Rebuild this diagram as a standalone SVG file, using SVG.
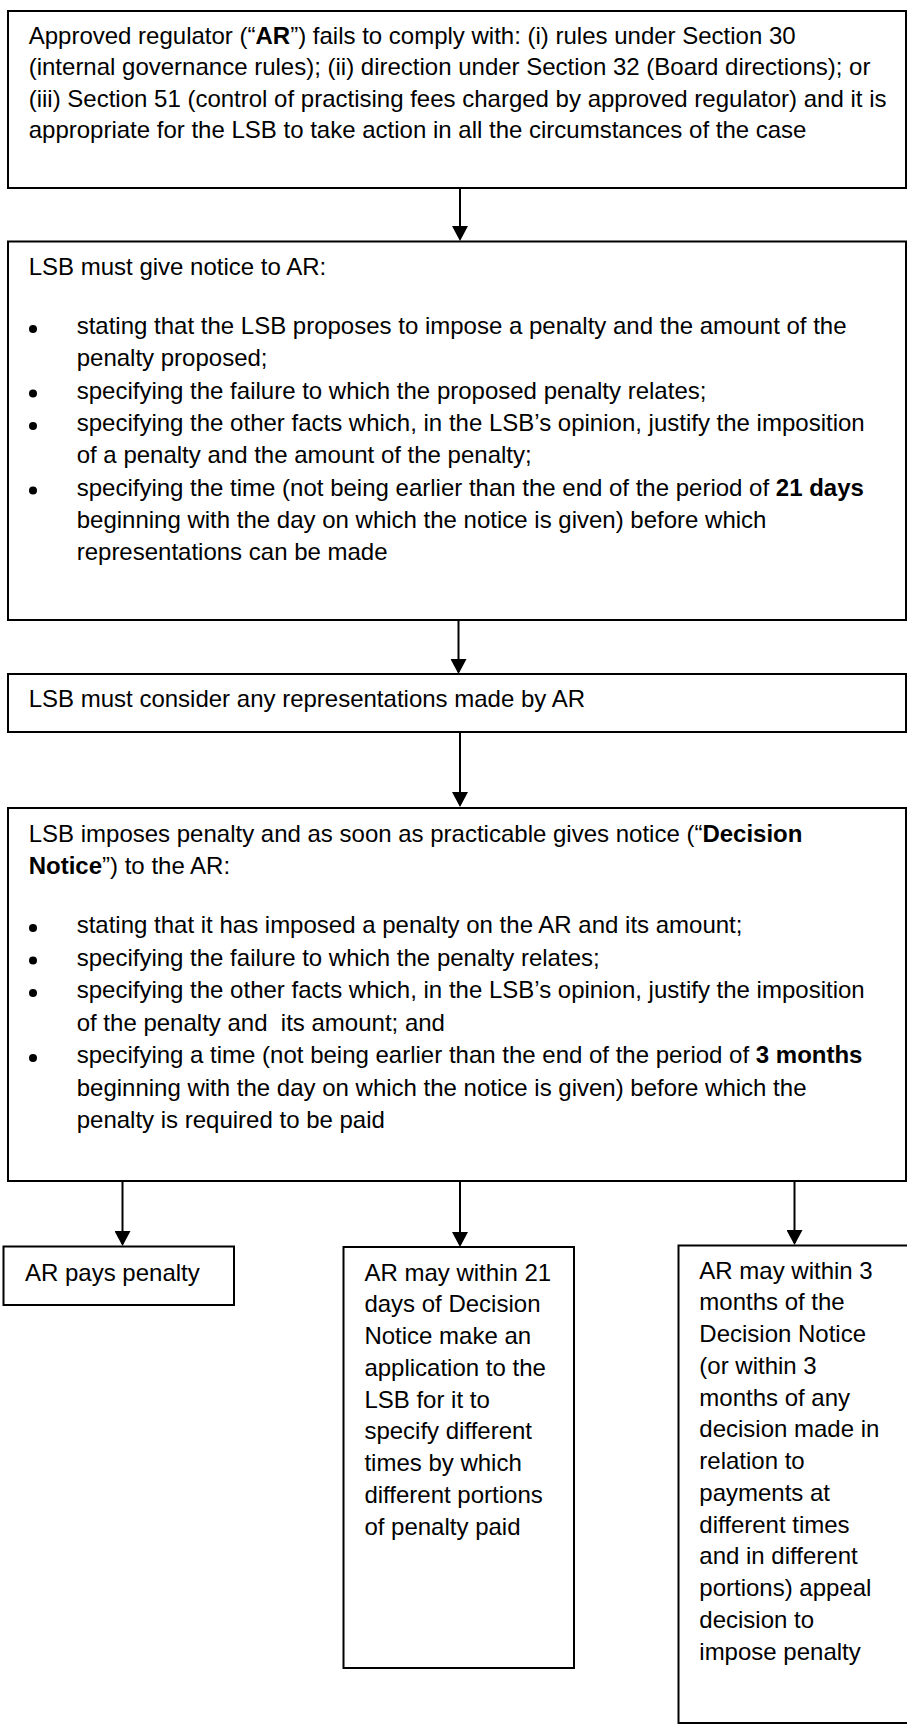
<svg xmlns="http://www.w3.org/2000/svg" width="907" height="1724" viewBox="0 0 907 1724">
  <defs>
    <style>
      .box { fill: #ffffff; stroke: #000000; stroke-width: 2; }
      .t { font-family: "Liberation Sans", Arial, sans-serif; font-size: 24px; fill: #000000; white-space: pre; }
      .b { font-weight: bold; }
      .conn { stroke: #000000; stroke-width: 2; fill: none; marker-end: url(#arrow); }
      .dot { fill: #000000; }
    </style>
    <marker id="arrow" markerUnits="userSpaceOnUse" viewBox="0 0 15 16" markerWidth="15" markerHeight="16" refX="13" refY="8" orient="auto">
      <path d="M0,0 L15,8 L0,16 z" fill="#000000"/>
    </marker>
  </defs>
  <rect x="0" y="0" width="907" height="1724" fill="#ffffff"/>

  <g id="connectors">
    <line class="conn" x1="460" y1="188" x2="460" y2="239"/>
    <line class="conn" x1="458.5" y1="620" x2="458.5" y2="672"/>
    <line class="conn" x1="460" y1="732" x2="460" y2="805"/>
    <line class="conn" x1="122.5" y1="1178" x2="122.5" y2="1244"/>
    <line class="conn" x1="460" y1="1181" x2="460" y2="1245"/>
    <line class="conn" x1="794.5" y1="1181" x2="794.5" y2="1243"/>
  </g>

  <g id="node-failure">
    <rect class="box" x="8" y="11" width="898" height="177"/>
    <text class="t" x="28.7" y="43.5">Approved regulator (“<tspan class="b">AR</tspan>”) fails to comply with: (i) rules under Section 30</text>
    <text class="t" x="28.7" y="75">(internal governance rules); (ii) direction under Section 32 (Board directions); or</text>
    <text class="t" x="28.7" y="106.5">(iii) Section 51 (control of practising fees charged by approved regulator) and it is</text>
    <text class="t" x="28.7" y="138">appropriate for the LSB to take action in all the circumstances of the case</text>
  </g>

  <g id="node-notice">
    <rect class="box" x="8" y="241.5" width="898" height="378.5"/>
    <text class="t" x="28.7" y="275">LSB must give notice to AR:</text>
    <circle class="dot" cx="33" cy="329" r="4"/>
    <text class="t" x="76.7" y="334">stating that the LSB proposes to impose a penalty and the amount of the</text>
    <text class="t" x="76.7" y="366.3">penalty proposed;</text>
    <circle class="dot" cx="33" cy="393.6" r="4"/>
    <text class="t" x="76.7" y="398.6">specifying the failure to which the proposed penalty relates;</text>
    <circle class="dot" cx="33" cy="425.9" r="4"/>
    <text class="t" x="76.7" y="430.9">specifying the other facts which, in the LSB’s opinion, justify the imposition</text>
    <text class="t" x="76.7" y="463.2">of a penalty and the amount of the penalty;</text>
    <circle class="dot" cx="33" cy="490.5" r="4"/>
    <text class="t" x="76.7" y="495.5">specifying the time (not being earlier than the end of the period of <tspan class="b">21 days</tspan></text>
    <text class="t" x="76.7" y="527.8">beginning with the day on which the notice is given) before which</text>
    <text class="t" x="76.7" y="560.1">representations can be made</text>
  </g>

  <g id="node-consider">
    <rect class="box" x="8" y="674" width="898" height="58"/>
    <text class="t" x="28.7" y="706.7">LSB must consider any representations made by AR</text>
  </g>

  <g id="node-decision">
    <rect class="box" x="8" y="808" width="898" height="373"/>
    <text class="t" x="28.7" y="841.5">LSB imposes penalty and as soon as practicable gives notice (“<tspan class="b">Decision</tspan></text>
    <text class="t" x="28.7" y="873.5"><tspan class="b">Notice</tspan>”) to the AR:</text>
    <circle class="dot" cx="33" cy="928" r="4"/>
    <text class="t" x="76.7" y="933">stating that it has imposed a penalty on the AR and its amount;</text>
    <circle class="dot" cx="33" cy="960.5" r="4"/>
    <text class="t" x="76.7" y="965.5">specifying the failure to which the penalty relates;</text>
    <circle class="dot" cx="33" cy="993" r="4"/>
    <text class="t" x="76.7" y="998">specifying the other facts which, in the LSB’s opinion, justify the imposition</text>
    <text class="t" x="76.7" y="1030.5">of the penalty and  its amount; and</text>
    <circle class="dot" cx="33" cy="1058" r="4"/>
    <text class="t" x="76.7" y="1063">specifying a time (not being earlier than the end of the period of <tspan class="b">3 months</tspan></text>
    <text class="t" x="76.7" y="1095.5">beginning with the day on which the notice is given) before which the</text>
    <text class="t" x="76.7" y="1128">penalty is required to be paid</text>
  </g>

  <g id="node-pays">
    <rect class="box" x="3.5" y="1246.5" width="230.5" height="58.5"/>
    <text class="t" x="25" y="1281">AR pays penalty</text>
  </g>

  <g id="node-portions">
    <rect class="box" x="343.5" y="1247" width="230.5" height="421"/>
    <text class="t" x="364.4" y="1280.5">AR may within 21</text>
    <text class="t" x="364.4" y="1312.3">days of Decision</text>
    <text class="t" x="364.4" y="1344">Notice make an</text>
    <text class="t" x="364.4" y="1375.8">application to the</text>
    <text class="t" x="364.4" y="1407.5">LSB for it to</text>
    <text class="t" x="364.4" y="1439.3">specify different</text>
    <text class="t" x="364.4" y="1471">times by which</text>
    <text class="t" x="364.4" y="1502.8">different portions</text>
    <text class="t" x="364.4" y="1534.5">of penalty paid</text>
  </g>

  <g id="node-appeal">
    <rect class="box" x="678.5" y="1245.5" width="240" height="477.5"/>
    <text class="t" x="699.3" y="1278.5">AR may within 3</text>
    <text class="t" x="699.3" y="1310.3">months of the</text>
    <text class="t" x="699.3" y="1342">Decision Notice</text>
    <text class="t" x="699.3" y="1373.8">(or within 3</text>
    <text class="t" x="699.3" y="1405.5">months of any</text>
    <text class="t" x="699.3" y="1437.3">decision made in</text>
    <text class="t" x="699.3" y="1469">relation to</text>
    <text class="t" x="699.3" y="1500.8">payments at</text>
    <text class="t" x="699.3" y="1532.5">different times</text>
    <text class="t" x="699.3" y="1564.3">and in different</text>
    <text class="t" x="699.3" y="1596">portions) appeal</text>
    <text class="t" x="699.3" y="1627.8">decision to</text>
    <text class="t" x="699.3" y="1659.5">impose penalty</text>
  </g>
</svg>
